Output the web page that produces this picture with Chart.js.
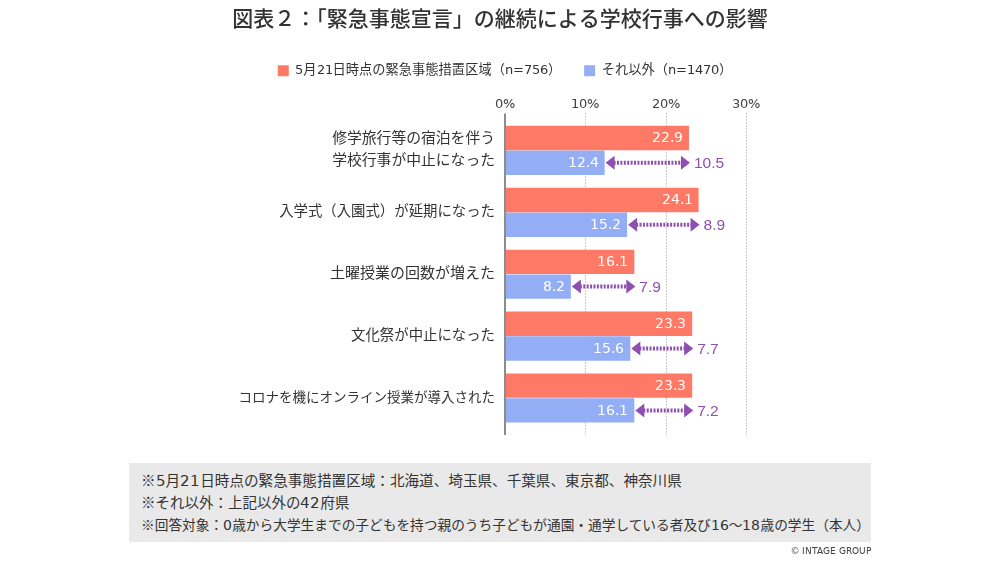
<!DOCTYPE html>
<html lang="ja"><head><meta charset="utf-8">
<style>
@font-face{font-family:"LatinPart";src:local("DejaVu Sans");unicode-range:U+0020-007E}
html,body{margin:0;padding:0;background:#fff;width:1000px;height:563px;overflow:hidden}
#wrap{position:relative;width:1000px;height:563px;font-family:"LatinPart","Noto Sans CJK JP",sans-serif}
canvas{position:absolute;left:0;top:0}
#notes{position:absolute;left:129px;top:463px;width:742px;height:79px;background:#e9e9e9;box-sizing:border-box;padding:7px 0 0 12px;line-height:22px;color:#333;white-space:nowrap}
#notes div{height:22px}
#copy{position:absolute;right:129px;top:545px;font-size:9.2px;line-height:12px;color:#444}
</style></head><body>
<div id="wrap">
<canvas id="c" width="1000" height="563"></canvas>
<div id="notes"><div style="font-size:14.6px">※5月21日時点の緊急事態措置区域：北海道、埼玉県、千葉県、東京都、神奈川県</div><div style="font-size:14.5px">※それ以外：上記以外の42府県</div><div style="font-size:13.7px">※回答対象：0歳から大学生までの子どもを持つ親のうち子どもが通園・通学している者及び16～18歳の学生（本人）</div></div>
<div id="copy">© INTAGE GROUP</div>
</div>
<script src="https://cdn.jsdelivr.net/npm/chart.js@4/dist/chart.umd.min.js"></script>
<script>
const chartTitle = "図表２：「緊急事態宣言」の継続による学校行事への影響";
const categories = [["修学旅行等の宿泊を伴う","学校行事が中止になった"],"入学式（入園式）が延期になった","土曜授業の回数が増えた","文化祭が中止になった","コロナを機にオンライン授業が導入された"];
const seriesNames = ["5月21日時点の緊急事態措置区域（n=756）","それ以外（n=1470）"];
const emergencyValues = [22.9,24.1,16.1,23.3,23.3];
const otherValues = [12.4,15.2,8.2,15.6,16.1];
const gapValues = [10.5,8.9,7.9,7.7,7.2];
const xTicks = [0,10,20,30];
const categoryFontSizes = [14.8,14.4,15,14.4,13.5];
const RED="#FF7A66",BLUE="#93AEF5",PURPLE="#8E4FB0";
const FONT='"LatinPart","Noto Sans CJK JP",sans-serif';

const overlay={
  id:'overlay',
  afterLayout(chart){ chart.legend.left+=5; chart.legend.right+=5; },
  beforeDatasetsDraw(chart){
    const {ctx,scales:{x},chartArea:a}=chart;
    ctx.save();
    ctx.strokeStyle='#999';ctx.lineWidth=1;ctx.setLineDash([1,2]);
    xTicks.slice(1).forEach(v=>{const p=Math.round(x.getPixelForValue(v))+.5;
      ctx.beginPath();ctx.moveTo(p,a.top-6);ctx.lineTo(p,a.bottom+6);ctx.stroke();});
    ctx.restore();
  },
  afterDatasetsDraw(chart){
    const {ctx,scales:{x},chartArea:a}=chart;
    ctx.save();
    ctx.strokeStyle='#8c8c8c';ctx.lineWidth=2;
    const p0=x.getPixelForValue(0);
    ctx.beginPath();ctx.moveTo(p0,a.top-6);ctx.lineTo(p0,a.bottom+6);ctx.stroke();
    ctx.font='14px '+FONT;ctx.fillStyle='#fff';ctx.textAlign='right';ctx.textBaseline='middle';
    chart.data.datasets.forEach((ds,i)=>{
      chart.getDatasetMeta(i).data.forEach((b,j)=>ctx.fillText(ds.data[j].toFixed(1),b.x-6,b.y+.5));
    });
    const blueBars=chart.getDatasetMeta(1).data;
    gapValues.forEach((g,j)=>{
      const y=blueBars[j].y, l=x.getPixelForValue(otherValues[j])+1, r=x.getPixelForValue(emergencyValues[j])+1;
      ctx.strokeStyle=PURPLE;ctx.fillStyle=PURPLE;ctx.lineWidth=4;ctx.setLineDash([2,1.4]);
      ctx.beginPath();ctx.moveTo(l+8,y);ctx.lineTo(r-8,y);ctx.stroke();ctx.setLineDash([]);
      ctx.beginPath();ctx.moveTo(l,y);ctx.lineTo(l+9,y-7);ctx.lineTo(l+9,y+7);ctx.closePath();ctx.fill();
      ctx.beginPath();ctx.moveTo(r,y);ctx.lineTo(r-9,y-7);ctx.lineTo(r-9,y+7);ctx.closePath();ctx.fill();
      ctx.font='15.5px "Liberation Sans",sans-serif';ctx.textAlign='left';
      ctx.fillText(g.toFixed(1),r+4,y+1);
    });
    ctx.restore();
  }
};

function draw(){
new Chart(document.getElementById('c'),{
  type:'bar',
  data:{labels:categories,datasets:[
    {label:seriesNames[0],data:emergencyValues,backgroundColor:RED,borderWidth:0},
    {label:seriesNames[1],data:otherValues,backgroundColor:BLUE,borderWidth:0}
  ]},
  options:{
    indexAxis:'y',responsive:false,animation:false,
    layout:{padding:{left:0,right:0,top:8,bottom:134}},
    categoryPercentage:.8,barPercentage:.985,
    plugins:{
      tooltip:{enabled:false},
      title:{display:true,text:chartTitle,color:'#333',font:{family:FONT,size:21,weight:'500'},padding:{top:0,bottom:8}},
      legend:{display:true,position:'top',align:'center',
        labels:{boxWidth:11,boxHeight:11,color:'#333',font:{family:FONT,size:13.25},padding:23}}
    },
    scales:{
      x:{position:'top',min:0,max:30,
        afterBuildTicks(s){s.ticks=xTicks.map(v=>({value:v}));},
        afterFit(s){s.height=32;},
        grid:{display:false,drawTicks:false},border:{display:false},
        ticks:{callback:v=>v+'%',color:'#444',font:{family:FONT,size:13},padding:7,maxRotation:0}},
      y:{grid:{display:false,drawTicks:false},border:{display:false},
        afterFit(s){s.width=505;},
        ticks:{color:'#333',font:c=>({family:FONT,size:categoryFontSizes[c.index]||14.4,lineHeight:1.5}),padding:10,crossAlign:'near'}},
      spacer:{axis:'y',position:'right',display:true,
        afterFit(s){s.width=254;},
        grid:{display:false,drawTicks:false},border:{display:false},ticks:{display:false}}
    }
  },
  plugins:[overlay]
});
}
document.fonts.load('14px "LatinPart"','0').then(draw,draw);
</script></body></html>
